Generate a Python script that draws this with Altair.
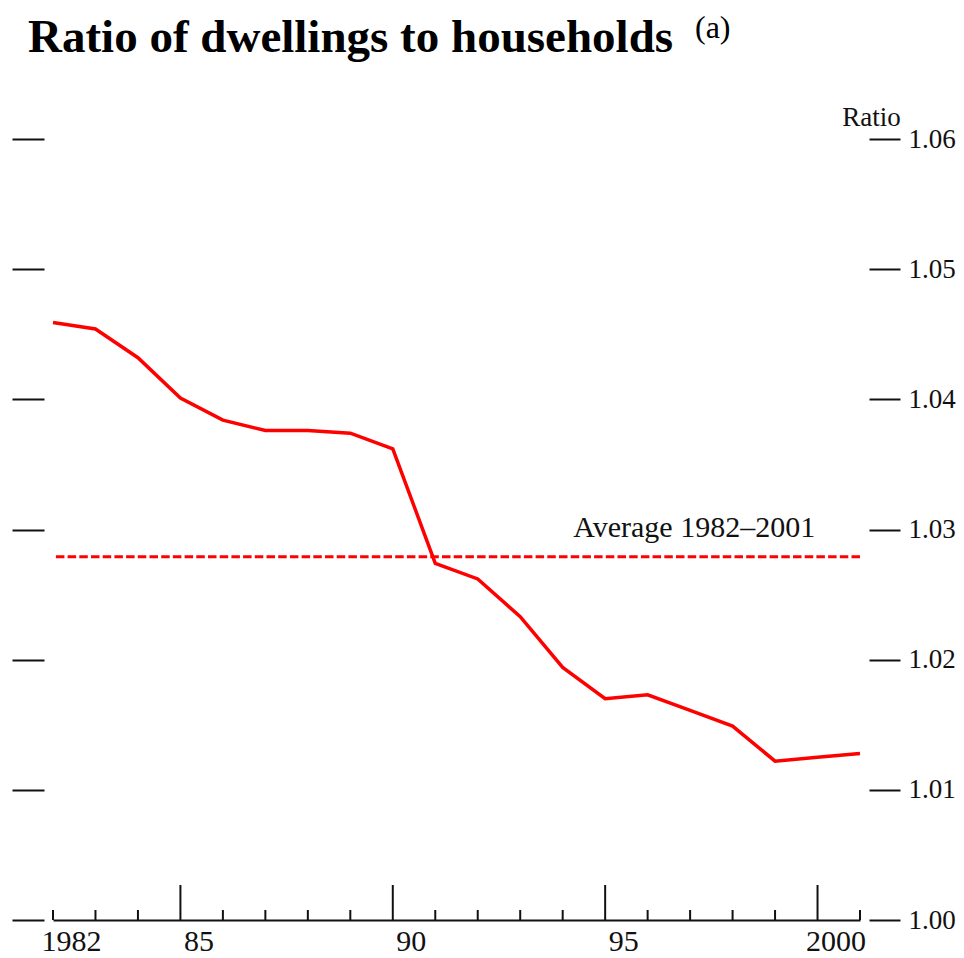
import altair as alt
import pandas as pd

# ---- data ----
years = list(range(1982, 2002))
ratio = [1.0459, 1.0454, 1.0432, 1.0401, 1.0384, 1.0376, 1.0376, 1.0374, 1.0362,
         1.0274, 1.0262, 1.0233, 1.0194, 1.0170, 1.0173, 1.0161, 1.0149, 1.0122,
         1.0125, 1.0128]
average_value = [1.0279]
average_label = ["Average 1982–2001"]
y_tick_values = [1.00, 1.01, 1.02, 1.03, 1.04, 1.05, 1.06]
x_label_years = [1982, 1985, 1990, 1995, 2000]
major_tick_years = [1985, 1990, 1995, 2000]
minor_tick_years = [y for y in years if y not in major_tick_years]
note = ["(a)"]
title_text = ["Ratio of dwellings to households"]

W, H = 807, 781
FONT = "Liberation Serif"
INK = "#111111"
RED = "#ff0000"

df = pd.DataFrame({"year": years, "ratio": ratio})
df_avg = pd.DataFrame({"avg": average_value, "label": average_label})
df_major = pd.DataFrame({"year": major_tick_years})
df_minor = pd.DataFrame({"year": minor_tick_years})
df_note = pd.DataFrame({"note": note})
df_title = pd.DataFrame({"title": title_text})

x_scale = alt.Scale(domain=[1982, 2001], nice=False, zero=False)
y_scale = alt.Scale(domain=[1.00, 1.06], nice=False, zero=False)

x_axis = alt.Axis(
    values=x_label_years,
    labelExpr="datum.value == 1982 || datum.value == 2000 ? toString(datum.value) : substring(toString(datum.value), 2, 4)",
    ticks=False, domain=True, domainColor=INK, domainWidth=2, grid=False,
    labelFont=FONT, labelFontSize=30, labelColor=INK, labelPadding=6,
    labelOffset=18, labelFlush=False, labelOverlap=False, title=None,
)

right_axis = alt.Axis(
    orient="right", values=y_tick_values, format=".2f", grid=False, domain=False,
    tickSize=31, tickWidth=2, tickColor=INK, offset=9,
    labelFont=FONT, labelFontSize=27, labelColor=INK, labelPadding=8,
    labelFlush=False, labelOverlap=False,
    title="Ratio", titleAngle=0, titleX=2, titleY=-14, titleAlign="center",
    titleBaseline="alphabetic", titleFont=FONT, titleFontSize=27,
    titleFontWeight="normal", titleColor=INK,
)

left_axis = alt.Axis(
    orient="left", values=y_tick_values, grid=False, domain=False, labels=False,
    tickSize=32, tickWidth=2, tickColor=INK, offset=9, title=None,
)

line = alt.Chart(df).mark_line(color=RED, strokeWidth=3.5).encode(
    x=alt.X("year:Q", scale=x_scale, axis=x_axis),
    y=alt.Y("ratio:Q", scale=y_scale, axis=right_axis),
)

avg_rule = alt.Chart(df_avg).mark_rule(color=RED, strokeWidth=3, strokeDash=[8.5, 3.2]).encode(
    y=alt.Y("avg:Q", scale=y_scale, axis=left_axis),
)

avg_text = alt.Chart(df_avg).mark_text(
    align="left", baseline="alphabetic", dy=-20, font=FONT, fontSize=30, color=INK
).encode(
    x=alt.datum(1994.25, scale=x_scale),
    y=alt.Y("avg:Q", scale=y_scale, axis=None),
    text="label:N",
)

major_ticks = alt.Chart(df_major).mark_rule(color=INK, strokeWidth=2).encode(
    x=alt.X("year:Q", scale=x_scale),
    y=alt.value(H), y2=alt.value(H - 35),
)

minor_ticks = alt.Chart(df_minor).mark_rule(color=INK, strokeWidth=2).encode(
    x=alt.X("year:Q", scale=x_scale),
    y=alt.value(H), y2=alt.value(H - 10),
)

title_mark = alt.Chart(df_title).mark_text(
    align="left", baseline="alphabetic", font=FONT, fontSize=47,
    fontWeight="bold", color="black"
).encode(
    x=alt.value(-25), y=alt.value(-87), text="title:N",
)

note_text = alt.Chart(df_note).mark_text(
    align="left", baseline="alphabetic", font=FONT, fontSize=32, color="black"
).encode(
    x=alt.value(642), y=alt.value(-101), text="note:N",
)

chart = alt.layer(
    line, avg_rule, avg_text, major_ticks, minor_ticks, title_mark, note_text
).resolve_scale(y="independent").properties(
    width=W, height=H,
    autosize=alt.AutoSizeParams(type="none"),
    padding={"left": 45, "top": 131, "right": 96, "bottom": 38},
).configure(background="white").configure_view(stroke=None)

chart.save("out.html", embed_options={"renderer": "svg", "actions": False})
